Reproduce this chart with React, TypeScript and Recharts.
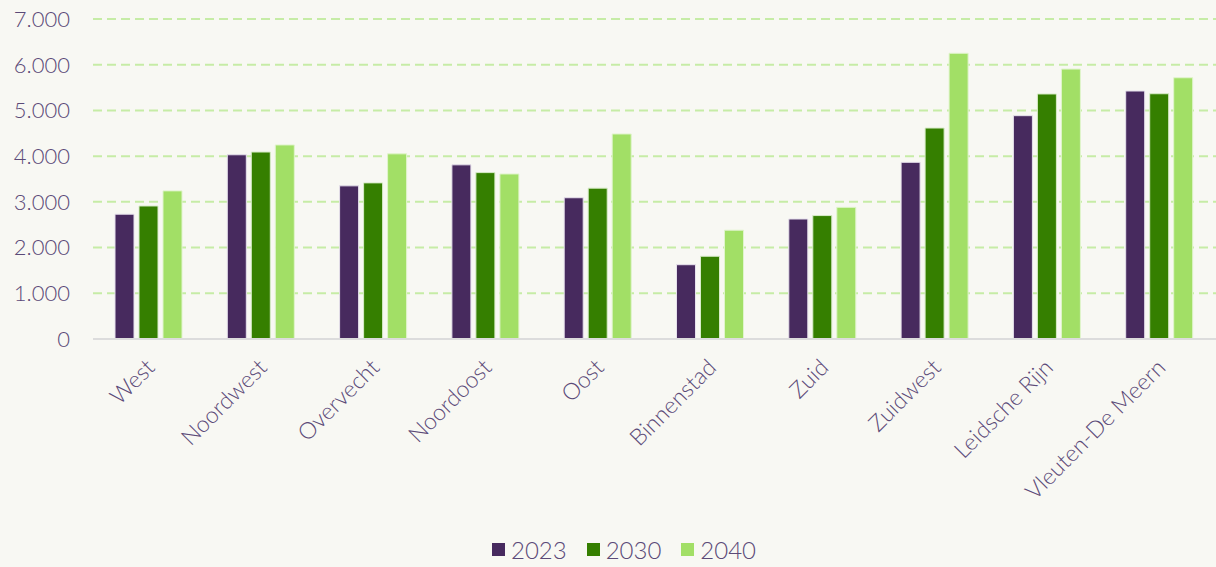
import React from 'react';
import { BarChart, Bar, XAxis, YAxis, CartesianGrid, Legend } from 'recharts';

const districts = [
  'West',
  'Noordwest',
  'Overvecht',
  'Noordoost',
  'Oost',
  'Binnenstad',
  'Zuid',
  'Zuidwest',
  'Leidsche Rijn',
  'Vleuten-De Meern',
];

const values2023 = [2730, 4030, 3350, 3810, 3090, 1625, 2625, 3865, 4885, 5425];
const values2030 = [2910, 4090, 3415, 3640, 3300, 1810, 2700, 4615, 5360, 5365];
const values2040 = [3240, 4245, 4050, 3610, 4485, 2380, 2880, 6250, 5905, 5715];

const yTicks = [0, 1000, 2000, 3000, 4000, 5000, 6000, 7000];

const series = [
  { key: '2023', color: '#472a5e', stroke: '#e6e0ec' },
  { key: '2030', color: '#357f00', stroke: '#d8ecc8' },
  { key: '2040', color: '#a2df66', stroke: '#e0f4cc' },
];

const data = districts.map((name, i) => ({
  name,
  '2023': values2023[i],
  '2030': values2030[i],
  '2040': values2040[i],
}));

const TEXT = '#5b4a78';
const FONT = 'Lato, "Open Sans", sans-serif';

const fmt = (v: number) => v.toLocaleString('nl-NL');

const XTick = (props: any) => {
  const { x, y, payload } = props;
  return (
    <g transform={`translate(${x + 7},${y + 22})`}>
      <text
        textAnchor="end"
        transform="rotate(-45)"
        fill={TEXT}
        fontSize={23}
        fontFamily={FONT}
        fontWeight={300}
      >
        {payload.value}
      </text>
    </g>
  );
};

// legend sits a bit right of the page centre in the original
const LegendContent = () => (
  <div style={{ display: 'flex', justifyContent: 'center', paddingLeft: 32, fontFamily: FONT, fontSize: 24, fontWeight: 300, color: TEXT }}>
    {series.map((s) => (
      <div key={s.key} style={{ display: 'flex', alignItems: 'center', margin: '0 10px' }}>
        <span style={{ display: 'inline-block', width: 13, height: 13, background: s.color, marginRight: 6 }} />
        <span>{s.key}</span>
      </div>
    ))}
  </div>
);

export default function App() {
  return (
    <div style={{ position: 'absolute', left: 0, top: 0, width: 1216, height: 567, background: '#f8f8f3' }}>
      <BarChart
        width={1216}
        height={567}
        data={data}
        margin={{ top: 19, right: 0, bottom: 0, left: 0 }}
        barGap={5}
        barCategoryGap={22}
      >
        <CartesianGrid vertical={false} stroke="#c6eca6" strokeWidth={2} strokeDasharray="9 5" />
        <XAxis
          dataKey="name"
          interval={0}
          height={196}
          tickLine={false}
          axisLine={{ stroke: '#dcdcdc', strokeWidth: 2 }}
          tick={<XTick />}
        />
        <YAxis
          width={93}
          domain={[0, 7000]}
          ticks={yTicks}
          tickFormatter={fmt}
          axisLine={false}
          tickLine={false}
          tickSize={0}
          tickMargin={23}
          tick={{ fill: TEXT, fontSize: 22, fontFamily: FONT, fontWeight: 300 }}
        />
        <Legend height={32} content={<LegendContent />} />
        {series.map((s) => (
          <Bar
            key={s.key}
            dataKey={s.key}
            fill={s.color}
            stroke={s.stroke}
            strokeWidth={1}
            isAnimationActive={false}
          />
        ))}
      </BarChart>
    </div>
  );
}
